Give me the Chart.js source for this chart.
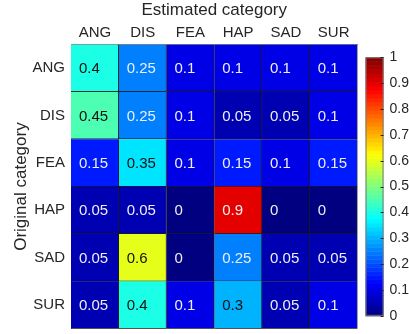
<!DOCTYPE html>
<html>
<head>
<meta charset="utf-8">
<script src="https://cdn.jsdelivr.net/npm/chart.js@4.4.1/dist/chart.umd.min.js"></script>
<style>
  html, body { margin: 0; padding: 0; background: #fff; }
</style>
</head>
<body>
<canvas id="graficoMatriz" width="409" height="334"></canvas>
<script>
// categorias
const estimated = ['ANG', 'DIS', 'FEA', 'HAP', 'SAD', 'SUR'];
const original = ['ANG', 'DIS', 'FEA', 'HAP', 'SAD', 'SUR'];

// filas de la matriz (categoria original -> estimada)
const angRow = [0.4, 0.25, 0.1, 0.1, 0.1, 0.1];
const disRow = [0.45, 0.25, 0.1, 0.05, 0.05, 0.1];
const feaRow = [0.15, 0.35, 0.1, 0.15, 0.1, 0.15];
const hapRow = [0.05, 0.05, 0, 0.9, 0, 0];
const sadRow = [0.05, 0.6, 0, 0.25, 0.05, 0.05];
const surRow = [0.05, 0.4, 0.1, 0.3, 0.05, 0.1];

const colorbarTicks = [0, 0.1, 0.2, 0.3, 0.4, 0.5, 0.6, 0.7, 0.8, 0.9, 1];

const rows = [angRow, disRow, feaRow, hapRow, sadRow, surRow];

// mapa de color tipo jet
const jetRgb = (v) => {
    const c = x => Math.round(255 * Math.min(1, Math.max(0, x)));
    return [c(1.5 - Math.abs(4 * v - 3)), c(1.5 - Math.abs(4 * v - 2)), c(1.5 - Math.abs(4 * v - 1))];
};
const jet = (v) => 'rgb(' + jetRgb(v).join(',') + ')';
const textColor = (v) => {
    const [r, g, b] = jetRgb(v);
    return (0.299 * r + 0.587 * g + 0.114 * b) / 255 > 0.5 ? '#111' : '#eeeeee';
};

Chart.defaults.font.family = '"Liberation Sans", Arial, sans-serif';
Chart.defaults.color = '#262626';

// cada columna estimada es un dataset apilado (una celda por fila)
const datasets = estimated.map((name, j) => ({
    label: name,
    data: original.map(() => 1),
    cellValues: rows.map(r => r[j]),
    backgroundColor: rows.map(r => jet(r[j])),
    borderColor: '#1a1a1a',
    borderWidth: { top: 0, left: 0, right: 1, bottom: 1 },
    borderSkipped: false,
    barPercentage: 1,
    categoryPercentage: 1
}));

const heatPlugin = {
    id: 'heatPlugin',
    afterDatasetsDraw(chart) {
        const ctx = chart.ctx;
        ctx.save();
        ctx.font = '15px "Liberation Sans", Arial, sans-serif';
        ctx.textAlign = 'left';
        ctx.textBaseline = 'middle';
        chart.data.datasets.forEach((ds, j) => {
            chart.getDatasetMeta(j).data.forEach((bar, i) => {
                const v = ds.cellValues[i];
                ctx.fillStyle = textColor(v);
                ctx.fillText(String(v), Math.min(bar.x, bar.base) + 8, bar.y + 1);
            });
        });
        ctx.restore();
    },
    afterDraw(chart) {
        // barra de color
        const s = chart.scales.cb;
        const ctx = chart.ctx;
        const x0 = s.left + 8, w = 18;
        const steps = 64;
        ctx.save();
        for (let k = 0; k < steps; k++) {
            const yA = s.getPixelForValue(k / steps);
            const yB = s.getPixelForValue((k + 1) / steps);
            ctx.fillStyle = jet((k + 0.5) / steps);
            ctx.fillRect(x0, yB, w, yA - yB + 0.5);
        }
        ctx.strokeStyle = '#777';
        ctx.lineWidth = 1;
        ctx.strokeRect(x0 + 0.5, s.getPixelForValue(1) + 0.5, w - 1, s.getPixelForValue(0) - s.getPixelForValue(1) - 1);
        ctx.strokeStyle = '#222';
        colorbarTicks.forEach(t => {
            const y = Math.round(s.getPixelForValue(t)) + 0.5;
            ctx.beginPath();
            ctx.moveTo(x0 + w, y);
            ctx.lineTo(x0 + w - 3, y);
            ctx.stroke();
        });
        ctx.restore();
    }
};

new Chart(document.getElementById('graficoMatriz'), {
    type: 'bar',
    data: { labels: original, datasets: datasets },
    options: {
        indexAxis: 'y',
        responsive: false,
        animation: false,
        layout: { padding: { left: 0, right: 0, top: 0, bottom: 5 } },
        plugins: { legend: { display: false }, tooltip: { enabled: false } },
        scales: {
            x: {
                type: 'linear',
                position: 'top',
                stacked: true,
                min: 0,
                max: 6,
                afterBuildTicks: s => { s.ticks = estimated.map((_, i) => ({ value: i + 0.5 })); },
                ticks: {
                    callback: (v, i) => estimated[i],
                    autoSkip: false,
                    maxRotation: 0,
                    font: { size: 15 },
                    padding: 3
                },
                grid: { display: false, drawTicks: false },
                border: { display: true, color: '#888' },
                title: {
                    display: true,
                    text: 'Estimated category',
                    font: { size: 17 },
                    padding: { top: 0, bottom: 0 }
                }
            },
            y: {
                type: 'category',
                stacked: true,
                afterFit: s => { s.width = 71; },
                grid: { display: true, drawOnChartArea: false, drawTicks: true, tickLength: 6, tickColor: 'rgba(0,0,0,0)' },
                border: { display: true, color: '#888' },
                ticks: { font: { size: 15, lineHeight: 0.7 }, padding: 0 },
                title: {
                    display: true,
                    text: 'Original category',
                    font: { size: 17 },
                    padding: { top: 11, bottom: 1 }
                }
            },
            cb: {
                type: 'linear',
                axis: 'y',
                position: 'right',
                min: 0,
                max: 1,
                afterBuildTicks: s => { s.ticks = colorbarTicks.map(v => ({ value: v })); },
                ticks: { callback: v => String(v), font: { size: 14, lineHeight: 0.7 }, padding: 0 },
                grid: { display: true, drawOnChartArea: false, drawTicks: true, tickLength: 32, tickColor: 'rgba(0,0,0,0)' },
                border: { display: false }
            }
        }
    },
    plugins: [heatPlugin]
});
</script>
</body>
</html>
